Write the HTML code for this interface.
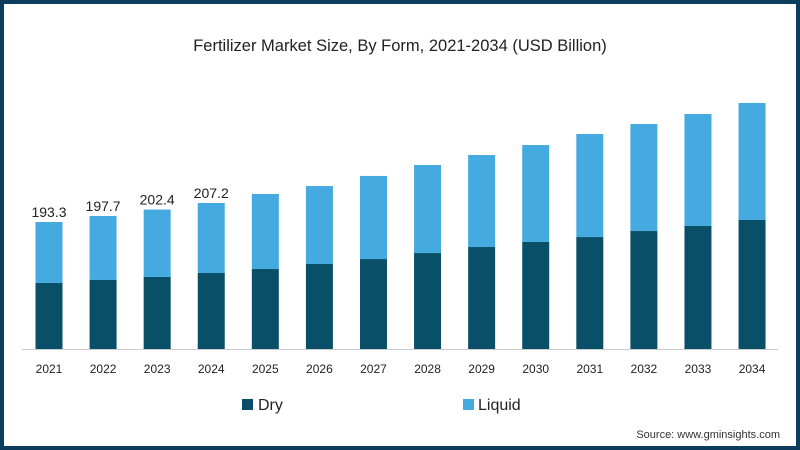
<!DOCTYPE html>
<html><head><meta charset="utf-8"><style>
body{margin:0;width:800px;height:450px;overflow:hidden;background:#fff;font-family:"Liberation Sans",sans-serif}
#frame{position:absolute;left:0;top:0;width:792px;height:442px;border:4px solid #0d3d5c;background:#fff}
</style></head><body>
<div id="frame"></div>
<svg id="chart" width="800" height="450" style="position:absolute;left:0;top:0">
<text x="400" y="51" text-anchor="middle" font-size="16.5" fill="#222">Fertilizer Market Size, By Form, 2021-2034 (USD Billion)</text>
<line x1="22" x2="778" y1="349.5" y2="349.5" stroke="#ccc"/>
<g id="bars"></g>
<rect x="242" y="399" width="11" height="11" fill="#0a4f68"/>
<text x="258" y="410" font-size="16" fill="#222">Dry</text>
<rect x="463" y="399" width="11" height="11" fill="#45aadf"/>
<text x="478" y="410" font-size="16" fill="#222">Liquid</text>
<text x="780" y="438" text-anchor="end" font-size="11" fill="#333">Source: www.gminsights.com</text>
</svg>
<script>
const years=["2021","2022","2023","2024","2025","2026","2027","2028","2029","2030","2031","2032","2033","2034"];
const dry=[148.7,150.9,153.1,156.0,158.9,162.6,166.2,170.6,175.0,178.7,182.3,186.7,190.4,194.8];
const liquid=[44.6,46.8,49.3,51.2,54.9,57.0,60.8,64.4,67.3,70.9,75.4,78.3,81.9,85.6];
const labels=["193.3","197.7","202.4","207.2","","","","","","","","","",""];
const base=349, vmin=100.4, k=1.367;
const y=v=>base-(v-vmin)*k;
const x=i=>49+i*54.08;
const ns="http://www.w3.org/2000/svg", g=document.getElementById('bars');
function mk(t,a){const e=document.createElementNS(ns,t);for(const n in a)e.setAttribute(n,a[n]);g.appendChild(e);return e;}
years.forEach((yr,i)=>{
  const yd=y(dry[i]), yt=y(dry[i]+liquid[i]);
  const d=mk('rect',{x:x(i)-13.5,y:yd,width:27,height:base-yd,fill:'#0a4f68'});
  
  
  const l=mk('rect',{x:x(i)-13.5,y:yt,width:27,height:yd-yt,fill:'#45aadf'});
  
  
  const t=mk('text',{x:x(i),y:373,'text-anchor':'middle','font-size':12,fill:'#222'});
  t.textContent=yr;
  
  
  if(labels[i]){
    const v=mk('text',{x:x(i),y:yt-5,'text-anchor':'middle','font-size':14,fill:'#222'});
    v.textContent=labels[i];
    
    
  }
});
</script>
</body></html>
